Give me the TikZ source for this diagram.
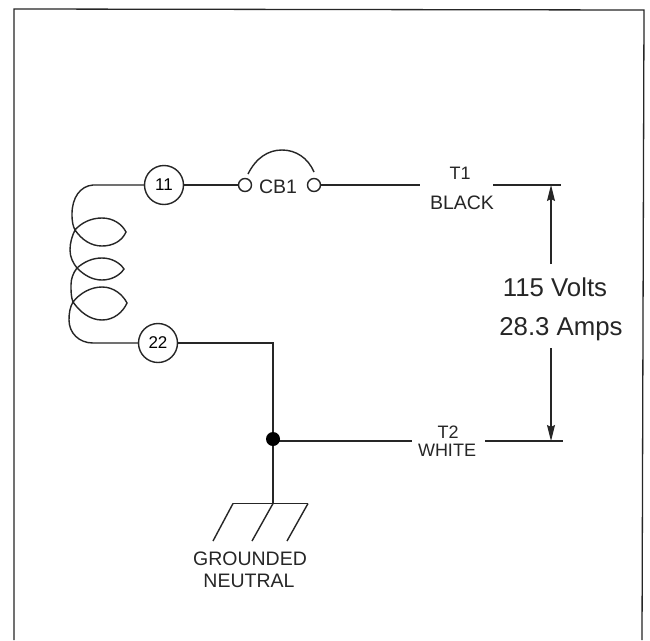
\documentclass[tikz,border=0pt]{standalone}
\usepackage{fontspec}
\setmainfont{Liberation Sans}
\usetikzlibrary{arrows.meta}
\tikzset{
 wire/.style={draw=black!85,line width=1.4pt},
 tag/.style={circle,draw=black!85,line width=1.4pt,minimum size=39pt,inner sep=0pt,font=\fontsize{17}{19}\selectfont},
 term/.style={circle,draw=black!85,line width=1.4pt,minimum size=13pt,inner sep=0pt},
 small/.style={inner sep=0pt,text=black!85,font=\fontsize{18}{20}\selectfont},
 wide/.style={inner sep=0pt,text=black!85,font=\fontsize{19.5}{22}\selectfont},
 big/.style={inner sep=0pt,text=black!85,font=\fontsize{25.8}{28}\selectfont},
 dimarrow/.style={wire,line width=1.1pt,-{Stealth[length=16pt,width=8pt,inset=2pt]}}
}
\begin{document}
\begin{tikzpicture}[x=1pt,y=-1pt]
\useasboundingbox (0,0) rectangle (650,640);
\fill[white] (0,0) rectangle (650,640);
\draw[black!85,line width=1.3pt] (14,640) -- (14,9) -- (644,10) -- (642,640);
\node[tag] (n11) at (164,185) {11};
\node[tag] (n22) at (158,343) {22};
\node[term] (cl) at (245,185) {};
\node[term] (cr) at (314,185) {};
\node[wide] (cb) at (278,187) {CB1};
\node[small] (t1) at (460,173) {T1};
\node[wide] (black) at (462,203) {BLACK};
\node[small] (t2) at (448,432) {T2};
\node[small] (white) at (447,450) {WHITE};
\node[big] (volts) at (555,287) {115 Volts};
\node[big] (amps) at (561,329) {28.3 Amps};
\node[wide] (g1) at (250,558.5) {GROUNDED};
\node[wide] (g2) at (249,581) {NEUTRAL};
\coordinate (j) at (273,439);
\coordinate (c22) at (273,343);
\coordinate (t1a) at (420,185);
\coordinate (t1b) at (493,185);
\coordinate (t1c) at (561,185);
\coordinate (t2a) at (412,441);
\coordinate (t2b) at (485,441);
\coordinate (t2c) at (563,441);
\coordinate (at) at (551,264);
\coordinate (ab) at (551,348);
\coordinate (attop) at (551,185);
\coordinate (abot) at (551,441);
\coordinate (gl) at (233,503.5);
\coordinate (gm) at (273,503.5);
\coordinate (gr) at (308,503.5);
\draw[wire] (n11) -- (cl);
\draw[wire] (cr) -- (t1a);
\draw[wire] (t1b) -- (t1c);
\draw[wire] (j |- t2a) -- (t2a);
\draw[wire] (t2b) -- (t2c);
\draw[wire] (n22) -- (c22) -- (j) -- (gm);
\draw[wire] (gl) -- (gr);
\draw[wire] (gl) -- (213,541);
\draw[wire] (gm) -- (252,541);
\draw[wire] (gr) -- (287,541);
\fill[black] (j) circle (7pt);
\draw[dimarrow] (at) -- (attop);
\draw[dimarrow] (ab) -- (abot);
% breaker arc
\draw[wire] (248,174) .. controls (256,158) and (268,150) .. (282,150) .. controls (296,150) and (308,158) .. (314,172);
% coil
\draw[wire] (n11.west) -- (93,185)
 .. controls (80,186) and (72,198) .. (72,214)
 .. controls (72,222) and (73,226) .. (75,230)
 .. controls (82,222) and (92,218) .. (102,218)
 .. controls (113,218) and (122,224) .. (126,232)
 .. controls (122,241) and (113,246) .. (102,246)
 .. controls (91,246) and (82,240) .. (75,230)
 .. controls (72,236) and (70,243) .. (70,250)
 .. controls (70,257) and (73,263) .. (77,268)
 .. controls (84,262) and (92,258) .. (102,258)
 .. controls (112,258) and (120,263) .. (124,269)
 .. controls (120,275) and (112,280) .. (102,280)
 .. controls (92,280) and (84,275) .. (77,268)
 .. controls (73,273) and (71,279) .. (71,285)
 .. controls (71,291) and (71,297) .. (73,302)
 .. controls (80,293) and (91,287) .. (102,287)
 .. controls (114,287) and (123,295) .. (127,303)
 .. controls (123,312) and (114,320) .. (102,320)
 .. controls (90,320) and (80,312) .. (73,302)
 .. controls (70,307) and (69,313) .. (69,320)
 .. controls (69,333) and (79,343) .. (93,343)
 -- (n22.west);
\end{tikzpicture}
\end{document}
